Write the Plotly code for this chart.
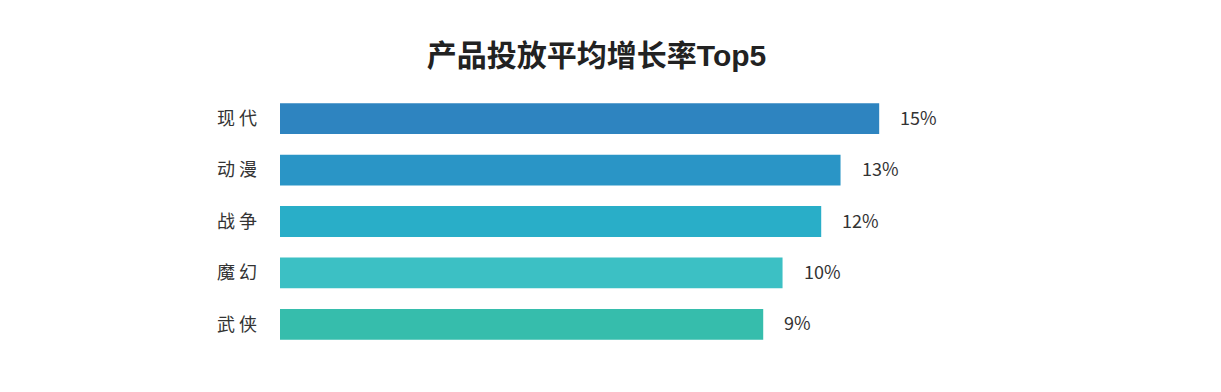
import plotly.graph_objects as go

categories = ["现 代", "动 漫", "战 争", "魔 幻", "武 侠"]
values = [15, 13, 12, 10, 9]
colors = ["#2E84C0", "#2A95C6", "#29AEC8", "#3CC0C4", "#36BDAC"]
axis_min = -16
axis_max = 21.25

fig = go.Figure()
fig.add_trace(go.Bar(
    y=categories, x=[v - axis_min for v in values], base=axis_min,
    orientation="h", marker=dict(color=colors, line=dict(width=0)),
    hoverinfo="skip",
))
for c, v in zip(categories, values):
    fig.add_annotation(x=v, y=c, text=f"{v}%", xanchor="left", xshift=19, yshift=2,
                       showarrow=False, font=dict(size=18, color="#333333",
                                                  family="Noto Sans CJK SC"))

fig.update_layout(
    width=1221, height=392,
    margin=dict(l=272, r=229, t=85, b=50),
    paper_bgcolor="white", plot_bgcolor="white",
    showlegend=False, bargap=0.4,
    title=dict(text="<b>产品投放平均增长率Top5</b>", x=0.482, xanchor="center",
               y=0.878, yanchor="middle",
               font=dict(size=30, color="#222222", family="Liberation Sans, Noto Sans CJK SC")),
    xaxis=dict(range=[axis_min, axis_max], visible=False, fixedrange=True),
    yaxis=dict(categoryorder="array", categoryarray=categories[::-1],
               showgrid=False, zeroline=False, showline=False, ticks="",
               ticklabelstandoff=22,
               tickfont=dict(size=18, color="#333333", family="Noto Sans CJK SC")),
    font=dict(family="Noto Sans CJK SC"),
)
fig.write_html("out.html")
